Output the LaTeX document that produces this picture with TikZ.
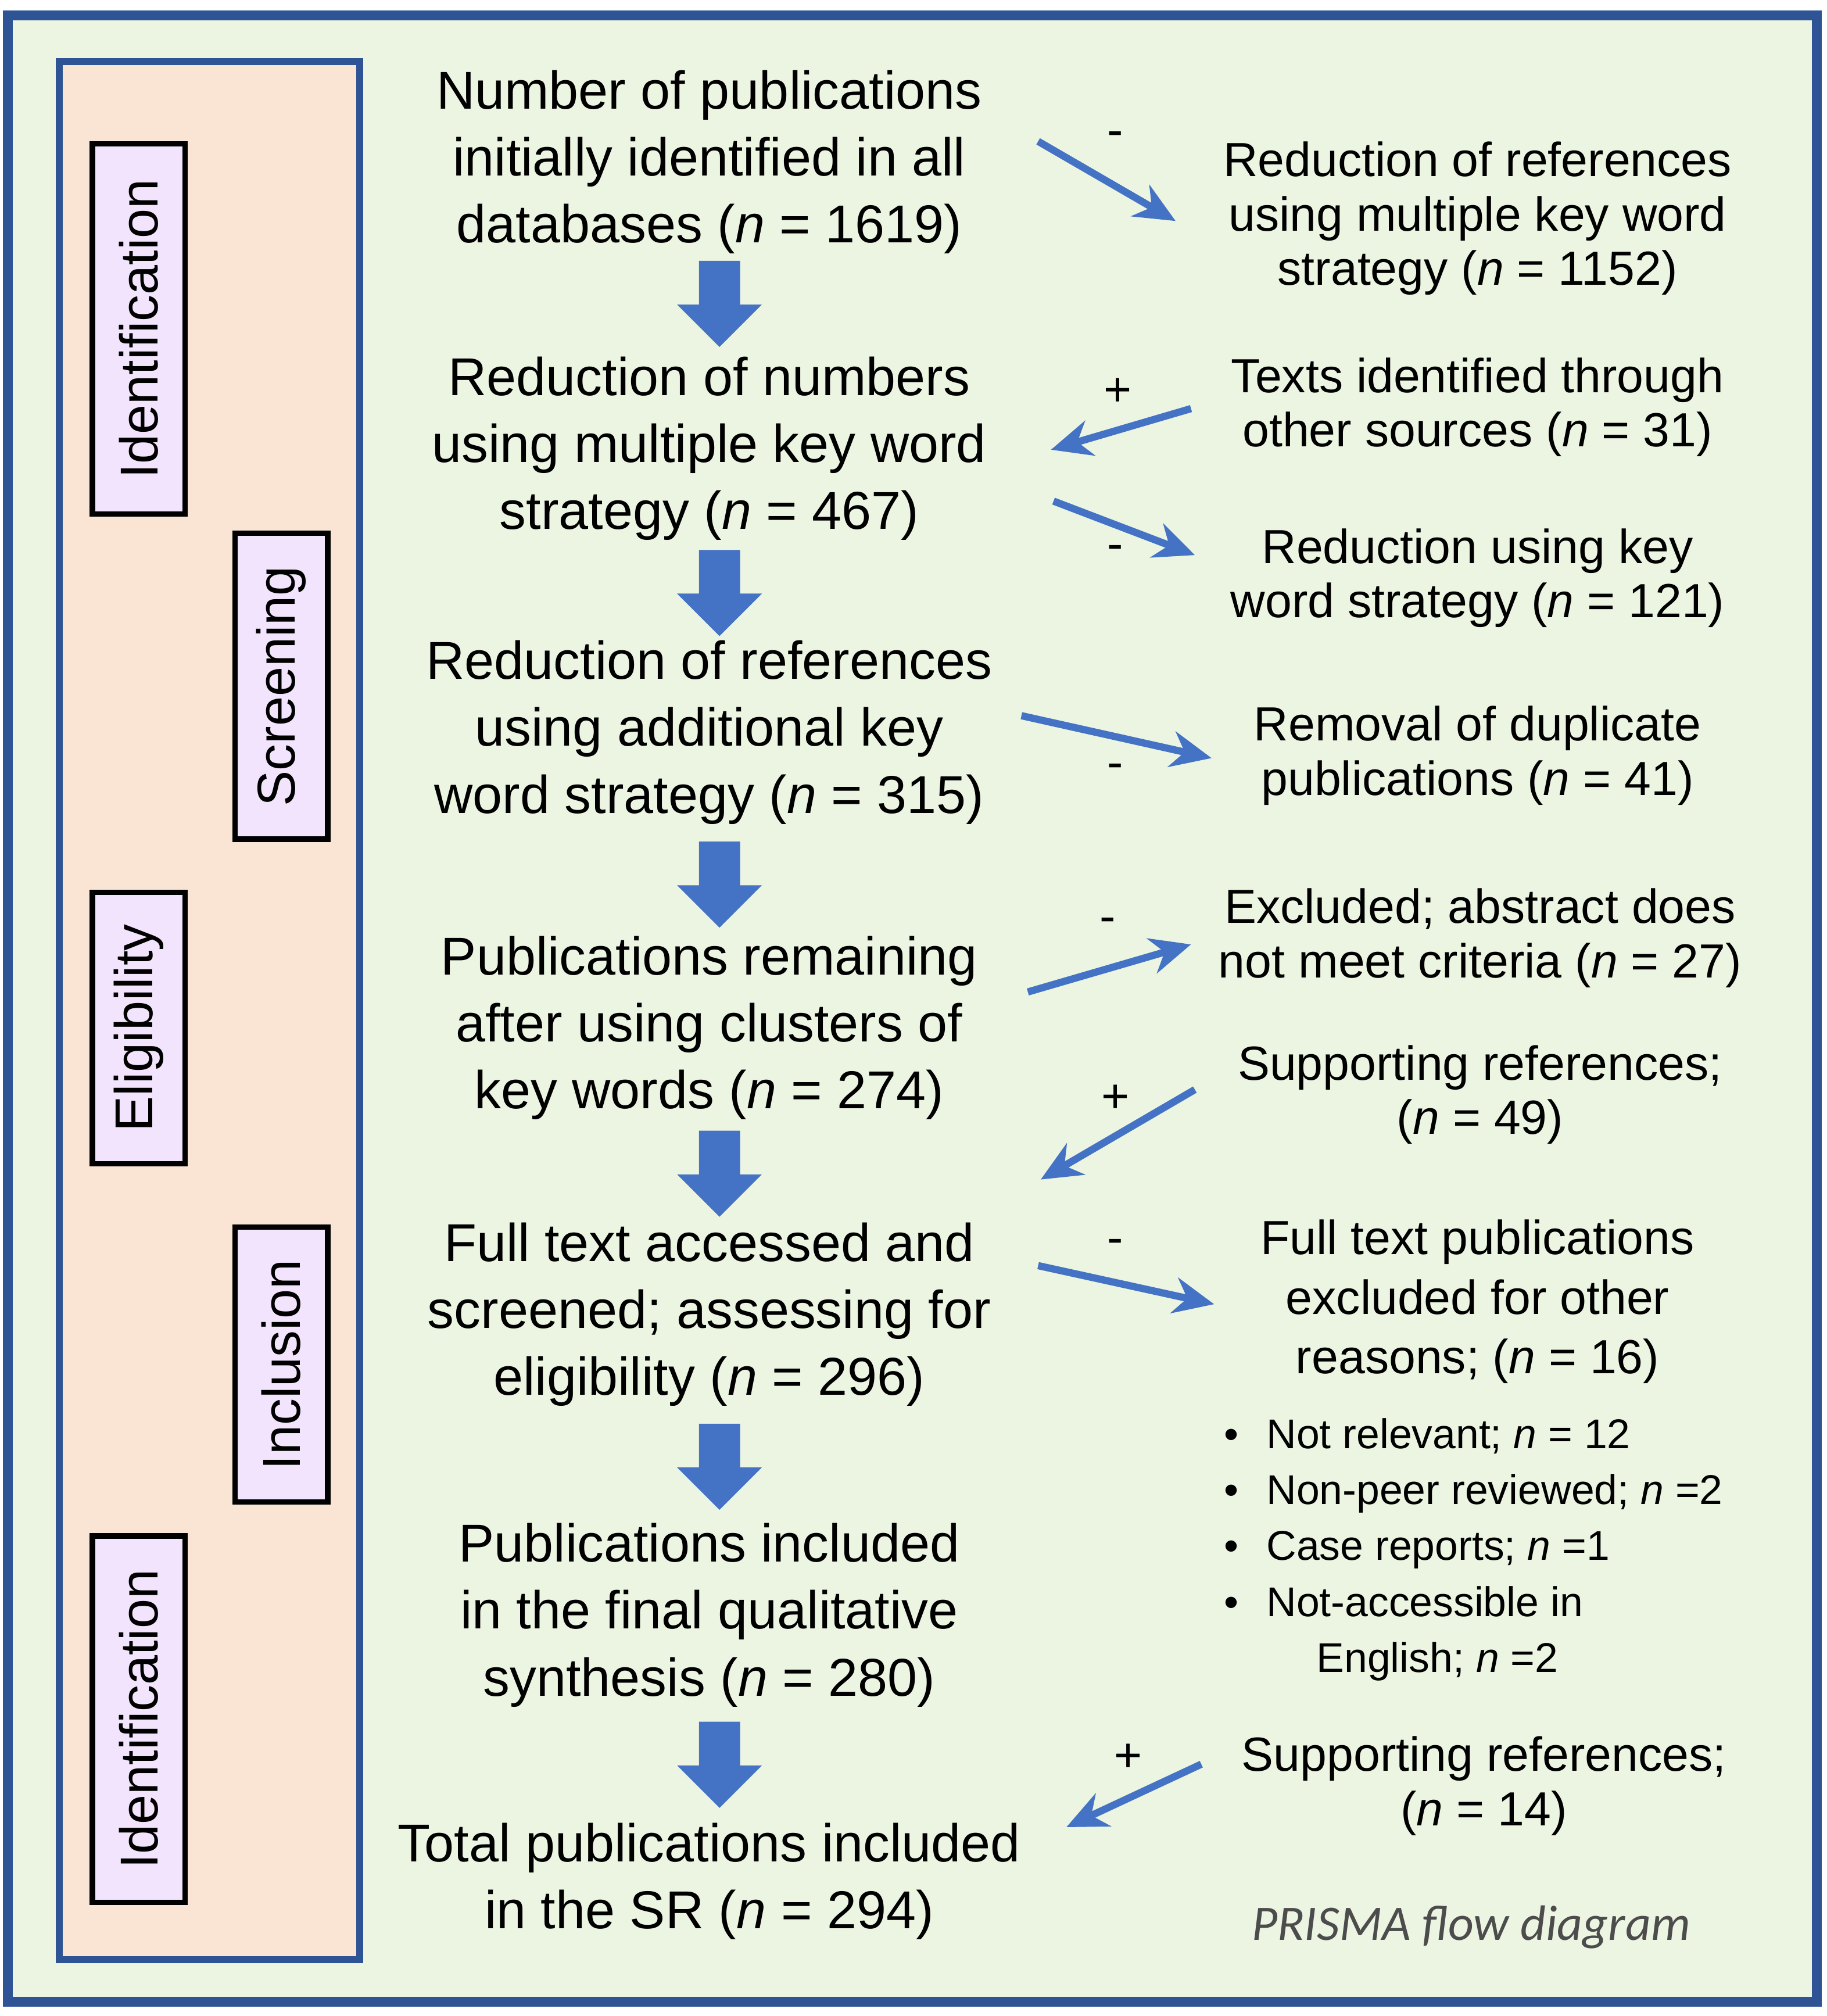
\documentclass[tikz,border=0pt]{standalone}
\usepackage{fontspec}
\setmainfont{Liberation Sans}
\newfontfamily\prisma{Carlito}
\usetikzlibrary{arrows.meta}
\definecolor{bgG}{RGB}{236,245,226}
\definecolor{peach}{RGB}{250,228,212}
\definecolor{lav}{RGB}{242,228,252}
\definecolor{bl}{RGB}{47,84,150}
\definecolor{ab}{RGB}{68,114,196}
\begin{document}
\begin{tikzpicture}[x=0.01cm,y=-0.01cm,
 main/.style={align=center,font=\fontsize{11.8}{14.8}\selectfont},
 side/.style={align=center,font=\fontsize{10.6}{12}\selectfont},
 stage/.style={draw=black,line width=1.2pt,fill=lav,rotate=90,minimum height=0.72cm,font=\fontsize{11.8}{14}\selectfont,inner sep=0pt},
 fat/.style={fill=ab},
 thin/.style={ab,line width=1.6pt,-{Stealth[length=9pt,width=8pt]}},
 sg/.style={font=\fontsize{10.6}{12}\selectfont}]
\useasboundingbox (0,0) rectangle (1422,1569);
\draw[bl,line width=2.2pt,fill=bgG] (6,12) rectangle (1414,1558);
\draw[bl,line width=1.5pt,fill=peach] (46,48) rectangle (280,1525);
\node[stage,minimum width=2.88cm] (s1) at (108,256) {Identification};
\node[stage,minimum width=2.38cm] (s2) at (219,534) {Screening};
\node[stage,minimum width=2.11cm] (s3) at (108,800) {Eligibility};
\node[stage,minimum width=2.14cm] (s4) at (219,1062) {Inclusion};
\node[stage,minimum width=2.85cm] (s5) at (108,1338) {Identification};

\node[main] (m1) at (552,126) {Number of publications\\initially identified in all\\databases (\textit{n} = 1619)};
\node[main] (m2) at (552,349) {Reduction of numbers\\using multiple key word\\strategy (\textit{n} = 467)};
\node[main] (m3) at (552,570) {Reduction of references\\using additional key\\word strategy (\textit{n} = 315)};
\node[main] (m4) at (552,800) {Publications remaining\\after using clusters of\\key words (\textit{n} = 274)};
\node[main] (m5) at (552,1023) {Full text accessed and\\screened; assessing for\\eligibility (\textit{n} = 296)};
\node[main] (m6) at (552,1257) {Publications included\\in the final qualitative\\synthesis (\textit{n} = 280)};
\node[main] (m7) at (552,1464) {Total publications included\\in the SR (\textit{n} = 294)};

\coordinate (f1) at (560,203);
\coordinate (f2) at (560,428);
\coordinate (f3) at (560,655);
\coordinate (f4) at (560,880);
\coordinate (f5) at (560,1108);
\coordinate (f6) at (560,1340);
\foreach \f in {f1,f2,f3,f4,f5,f6}
  \fill[fat] (\f) ++(-16,0) -- ++(32,0) -- ++(0,34) -- ++(17,0) -- ++(-33,33) -- ++(-33,-33) -- ++(17,0) -- cycle;

\node[side] (r1) at (1150,170) {Reduction of references\\using multiple key word\\strategy (\textit{n} = 1152)};
\node[side] (r2) at (1150,317) {Texts identified through\\other sources (\textit{n} = 31)};
\node[side] (r3) at (1150,450) {Reduction using key\\word strategy (\textit{n} = 121)};
\node[side] (r4) at (1150,588) {Removal of duplicate\\publications (\textit{n} = 41)};
\node[side] (r5) at (1152,730) {Excluded; abstract does\\not meet criteria (\textit{n} = 27)};
\node[side] (r6) at (1152,852) {Supporting references;\\(\textit{n} = 49)};
\node[side,font=\fontsize{10.6}{13.2}\selectfont] (r7) at (1150,1013) {Full text publications\\excluded for other\\reasons; (\textit{n} = 16)};
\node[align=left,anchor=north west,font=\fontsize{9.2}{12.4}\selectfont,inner sep=0pt] (bl) at (952,1103) {%
\makebox[0.33cm][l]{•}Not relevant; \textit{n} = 12\\
\makebox[0.33cm][l]{•}Non-peer reviewed; \textit{n} =2\\
\makebox[0.33cm][l]{•}Case reports; \textit{n} =1\\
\makebox[0.33cm][l]{•}Not-accessible in\\
\hspace*{0.72cm}English; \textit{n} =2};
\node[side] (r8) at (1155,1390) {Supporting references;\\(\textit{n} = 14)};
\node[font=\prisma\fontsize{11}{12}\selectfont\itshape,text=black!70] (pr) at (1145,1500) {PRISMA flow diagram};

\coordinate (a1s) at (808,110); \coordinate (a1e) at (915,172);
\coordinate (a2s) at (927,318); \coordinate (a2e) at (818,350);
\coordinate (a3s) at (820,390); \coordinate (a3e) at (930,432);
\coordinate (a4s) at (795,557); \coordinate (a4e) at (943,590);
\coordinate (a5s) at (800,772); \coordinate (a5e) at (927,735);
\coordinate (a6s) at (930,848); \coordinate (a6e) at (810,918);
\coordinate (a7s) at (808,985); \coordinate (a7e) at (945,1015);
\coordinate (a8s) at (935,1373); \coordinate (a8e) at (830,1422);
\draw[thin] (a1s) -- (a1e);
\draw[thin] (a2s) -- (a2e);
\draw[thin] (a3s) -- (a3e);
\draw[thin] (a4s) -- (a4e);
\draw[thin] (a5s) -- (a5e);
\draw[thin] (a6s) -- (a6e);
\draw[thin] (a7s) -- (a7e);
\draw[thin] (a8s) -- (a8e);
\node[sg] (g1) at (868,108) {-};
\node[sg] (g2) at (870,305) {+};
\node[sg] (g3) at (868,430) {-};
\node[sg] (g4) at (868,600) {-};
\node[sg] (g5) at (862,720) {-};
\node[sg] (g6) at (868,855) {+};
\node[sg] (g7) at (868,970) {-};
\node[sg] (g8) at (878,1368) {+};
\end{tikzpicture}
\end{document}
